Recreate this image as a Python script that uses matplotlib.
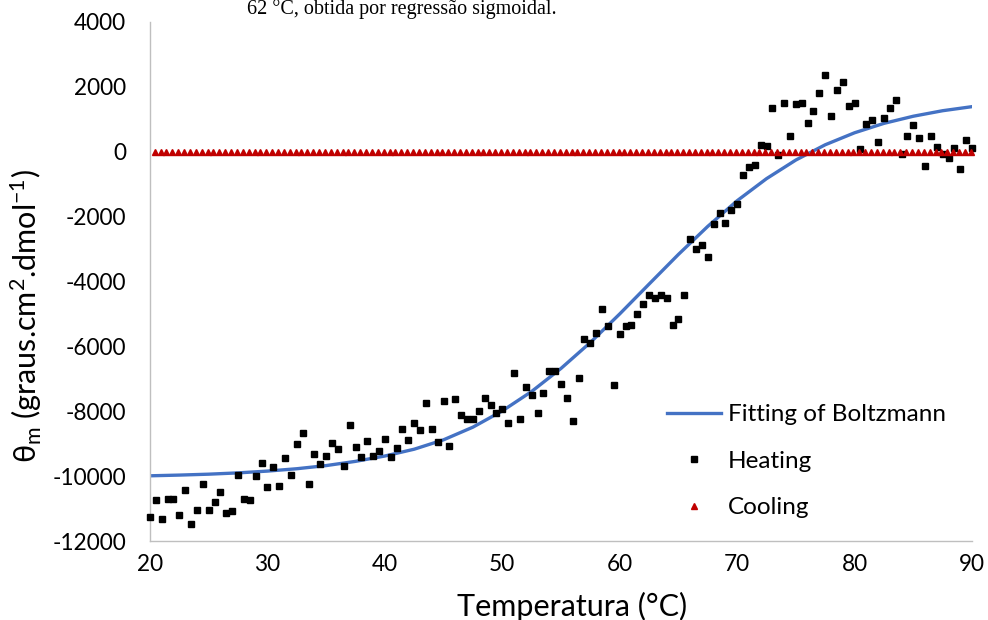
import numpy as np
import matplotlib
matplotlib.use("Agg")
import matplotlib.pyplot as plt

plt.rcParams['font.family'] = ['Lato', 'DejaVu Sans']
plt.rcParams['mathtext.fontset'] = 'custom'
plt.rcParams['mathtext.rm'] = 'Lato'
plt.rcParams['mathtext.it'] = 'Lato:italic'
plt.rcParams['axes.unicode_minus'] = False

# Heating: 20 -> 90 °C every 0.5 °C
heating_x = np.arange(20, 90.01, 0.5)
heating_y = [
    -11254, -10730, -11316, -10699, -10699, -11193, -10421, -11470, -11038, -10236,
    -11038, -10792, -10483, -11131, -11069, -9958, -10699, -10730, -9989, -9588,
    -10329, -9712, -10298, -9434, -9958, -9002, -8662, -10236, -9310, -9619,
    -9372, -8971, -9156, -9681, -8415, -9094, -9403, -8909, -9372, -9218,
    -8847, -9403, -9125, -8539, -8878, -8354, -8570, -7737, -8539, -8940,
    -7675, -9063, -7613, -8107, -8230, -8230, -7983, -7582, -7798, -8045,
    -7922, -8354, -6811, -8230, -7243, -7490, -8045, -7428, -6749, -6749,
    -7150, -7582, -8292, -6965, -5762, -5885, -5577, -4836, -5360, -7181,
    -5607, -5360, -5330, -4990, -4682, -4404, -4496, -4404, -4496, -5330,
    -5144, -4404, -2675, -2984, -2861, -3230, -2213, -1873, -2182, -1781,
    -1626, -731, -485, -423, 194, 164, 1336, -114, 1490, 472,
    1460, 1490, 873, 1244, 1800, 2355, 1089, 1892, 2139, 1398,
    1490, 71, 842, 966, 287, 1028, 1336, 1583, -83, 472,
    812, 410, -454, 472, 133, -83, -207, 102, -546, 349,
    102,
]

# Cooling: flat at ~0 over the whole range
cooling_x = np.arange(20.4, 90.0, 0.5)
cooling_y = [0] * len(cooling_x)

# Boltzmann fit, read every 2.5 °C
fit_x = np.arange(20, 90.01, 2.5)
fit_y = [
    -9990, -9968, -9940, -9900, -9845, -9772, -9675, -9545, -9380, -9170,
    -8880, -8490, -7990, -7390, -6680, -5880, -5000, -4080, -3165, -2300,
    -1510, -830, -255, 215, 585, 875, 1095, 1265, 1390,
]

fig = plt.figure(figsize=(9.88, 6.2), dpi=100)
ax = fig.add_axes([150/988, 79/620, 822/988, 519/620])

ax.plot(fit_x, fit_y, color="#4472C4", linewidth=2.4, label="Fitting of Boltzmann", zorder=2)
ax.plot(heating_x, heating_y, 's', color="black", markersize=4.4, linestyle='none',
        label="Heating", clip_on=False, zorder=3)
ax.plot(cooling_x, cooling_y, '^', color="#C00000", markersize=5, linestyle='none',
        label="Cooling", clip_on=False, zorder=4)

ax.set_xlim(20, 90)
ax.set_ylim(-12000, 4000)
ax.set_xticks(np.arange(20, 91, 10))
ax.set_yticks(np.arange(-12000, 4001, 2000))

for s in ['top', 'right']:
    ax.spines[s].set_visible(False)
for s in ['left', 'bottom']:
    ax.spines[s].set_color('#BFBFBF')
    ax.spines[s].set_linewidth(1.0)
ax.tick_params(length=0, labelsize=16.3, colors='#000000')
ax.tick_params(axis='y', pad=17)
ax.tick_params(axis='x', pad=9.5)

ax.set_xlabel("Temperatura (°C)", fontsize=22)
ax.xaxis.set_label_coords(0.513, -0.099)
ax.set_ylabel(r"θ$_{\rm m}$ (graus.cm$^{2}$.dmol$^{-1}$)", fontsize=22)
ax.yaxis.set_label_coords(-0.129, 0.434)

ax.legend(frameon=False, fontsize=17.5, loc='upper left',
          bbox_to_anchor=(655/988, 1 - 392/620), bbox_transform=fig.transFigure,
          borderpad=0, handlelength=2.2, handletextpad=0.3, labelspacing=1.05,
          markerscale=1.0)

# cropped caption text at the very top of the picture
fig.text(247/988, 1 - 14/620, "62 °C, obtida por regressão sigmoidal.",
         family="Liberation Serif", fontsize=14.5, va='baseline', ha='left')

fig.savefig("out.png", dpi=100)
